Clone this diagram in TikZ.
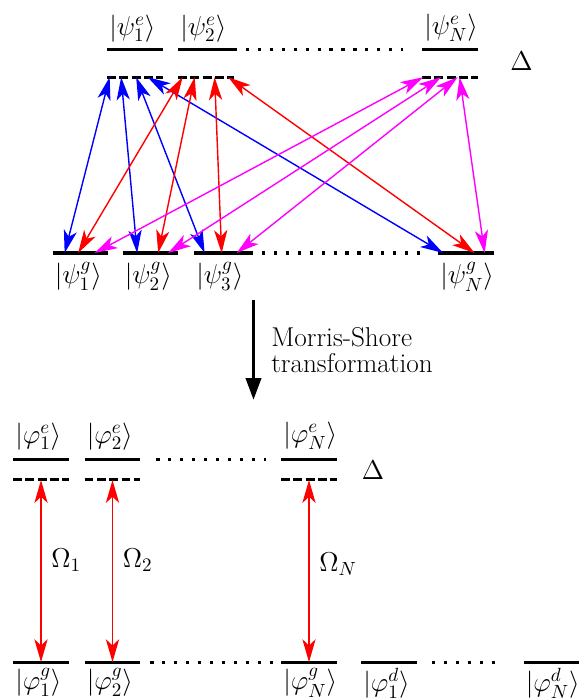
\RequirePackage{fix-cm}
\documentclass[tikz,border=0pt]{standalone}
\usepackage{amsmath,amssymb}
\usepackage{xcolor}
\usepackage{tikz}
\usetikzlibrary{arrows.meta,positioning}
\definecolor{pumpmag}{RGB}{255,0,255}

\begin{document}
\begin{tikzpicture}[
    font=\fontsize{15.5pt}{15.2pt}\selectfont,
    level/.style={rectangle, inner sep=0pt, minimum width=1.1cm, minimum height=0pt},
    solidlvl/.style={line width=1.8pt},
    virtlvl/.style={line width=1.8pt, dash pattern=on 5pt off 2pt},
    dots/.style={line width=1.8pt, dash pattern=on 1.8pt off 5pt},
    ket/.style={inner sep=1pt},
    rabi/.style={right, xshift=2pt, text=black},
    tr/.style={{Stealth[length=13pt,width=7.5pt,inset=3.5pt]}-{Stealth[length=13pt,width=7.5pt,inset=3.5pt]}, line width=0.8pt},
    msarrow/.style={-{Triangle[length=0.44cm,width=0.3cm]}, line width=2.2pt}
]
\useasboundingbox (0,0) rectangle (11.58,-14);

% bare states
\node[level] (e1) at (2.70,-0.99) {};
\node[level] (e2) at (4.12,-0.99) {};
\node[level] (eN) at (9.00,-0.99) {};
\node[level, below=0.54cm of e1] (v1) {};
\node[level, below=0.54cm of e2] (v2) {};
\node[level, below=0.54cm of eN] (vN) {};
\node[level] (g1) at (1.61,-5.06) {};
\node[level] (g2) at (3.01,-5.06) {};
\node[level] (g3) at (4.44,-5.06) {};
\node[level] (gN) at (9.32,-5.06) {};

\draw[solidlvl] (e1.west) -- (e1.east) (e2.west) -- (e2.east) (eN.west) -- (eN.east);
\draw[virtlvl] (v1.west) -- (v1.east) (v2.west) -- (v2.east) (vN.west) -- (vN.east);
\draw[solidlvl] (g1.west) -- (g1.east) (g2.west) -- (g2.east) (g3.west) -- (g3.east) (gN.west) -- (gN.east);
\draw[dots] (e2.east) -- ([xshift=-0.39cm]eN.west);
\draw[dots] (g3.east) -- ([xshift=-0.37cm]gN.west);

\node[ket, above=0.11cm of e1.west, anchor=south west] (ke1) {$|\psi^e_1\rangle$};
\node[ket, above=0.11cm of e2.west, anchor=south west] (ke2) {$|\psi^e_2\rangle$};
\node[ket, above=0.11cm of eN.west, anchor=south west] (keN) {$|\psi^e_N\rangle$};
\node[ket, below=0.14cm of g1.west, anchor=north west] (kg1) {$|\psi^g_1\rangle$};
\node[ket, below=0.14cm of g2.west, anchor=north west] (kg2) {$|\psi^g_2\rangle$};
\node[ket, below=0.14cm of g3.west, anchor=north west] (kg3) {$|\psi^g_3\rangle$};
\node[ket, below=0.14cm of gN.west, anchor=north west] (kgN) {$|\psi^g_N\rangle$};
\node (delta1) at (10.43,-1.22) {$\Delta$};

% couplings
\draw[tr, blue] ([xshift=0.05cm]v1.west) -- ([xshift=0.24cm]g1.west);
\draw[tr, blue] ([xshift=0.28cm]v1.west) -- ([xshift=0.29cm]g2.west);
\draw[tr, blue] ([xshift=0.58cm]v1.west) -- ([xshift=0.21cm]g3.west);
\draw[tr, blue] ([xshift=0.81cm]v1.west) -- ([xshift=0.10cm]gN.west);
\draw[tr, red] ([xshift=0.09cm]v2.west) -- ([xshift=0.51cm]g1.west);
\draw[tr, red] ([xshift=0.33cm]v2.west) -- ([xshift=0.71cm]g2.west);
\draw[tr, red] ([xshift=0.73cm]v2.west) -- ([xshift=0.55cm]g3.west);
\draw[tr, red] ([xshift=1.00cm]v2.west) -- ([xshift=0.73cm]gN.west);
\draw[tr, pumpmag] ([xshift=0.02cm]vN.west) -- ([xshift=0.84cm]g1.west);
\draw[tr, pumpmag] ([xshift=0.38cm]vN.west) -- ([xshift=0.91cm]g2.west);
\draw[tr, pumpmag] ([xshift=0.71cm]vN.west) -- ([xshift=0.85cm]g3.west);
\draw[tr, pumpmag] ([xshift=0.75cm]vN.west) -- ([xshift=0.93cm]gN.west);

% transformation
\coordinate (mstop) at (5.07,-6.0);
\coordinate (msbot) at (5.07,-8.0);
\draw[msarrow] (mstop) -- node[right=0.2cm, align=left] (mslabel) {Morris-Shore\\transformation} (msbot);

% MS basis
\node[level] (f1) at (0.82,-9.19) {};
\node[level] (f2) at (2.25,-9.19) {};
\node[level] (fN) at (6.18,-9.19) {};
\node[level, below=0.39cm of f1] (w1) {};
\node[level, below=0.39cm of f2] (w2) {};
\node[level, below=0.39cm of fN] (wN) {};
\node[level] (h1) at (0.82,-13.25) {};
\node[level] (h2) at (2.25,-13.25) {};
\node[level] (hN) at (6.18,-13.25) {};
\node[level] (d1) at (7.78,-13.25) {};
\node[level] (dN) at (11.03,-13.25) {};

\draw[solidlvl] (f1.west) -- (f1.east) (f2.west) -- (f2.east) (fN.west) -- (fN.east);
\draw[virtlvl] (w1.west) -- (w1.east) (w2.west) -- (w2.east) (wN.west) -- (wN.east);
\draw[solidlvl] (h1.west) -- (h1.east) (h2.west) -- (h2.east) (hN.west) -- (hN.east)
    (d1.west) -- (d1.east) (dN.west) -- (dN.east);
\draw[dots] ([xshift=0.32cm]f2.east) -- ([xshift=-0.31cm]fN.west);
\draw[dots] ([xshift=0.2cm]h2.east) -- ([xshift=-0.16cm]hN.west);
\draw[dots] ([xshift=0.3cm]d1.east) -- ([xshift=-0.44cm]dN.west);

\node[ket, above=0.15cm of f1.west, anchor=south west] (kf1) {$|\varphi^e_1\rangle$};
\node[ket, above=0.15cm of f2.west, anchor=south west] (kf2) {$|\varphi^e_2\rangle$};
\node[ket, above=0.15cm of fN.west, anchor=south west] (kfN) {$|\varphi^e_N\rangle$};
\node[ket, below=0.07cm of h1.west, anchor=north west] (kh1) {$|\varphi^g_1\rangle$};
\node[ket, below=0.07cm of h2.west, anchor=north west] (kh2) {$|\varphi^g_2\rangle$};
\node[ket, below=0.07cm of hN.west, anchor=north west] (khN) {$|\varphi^g_N\rangle$};
\node[ket, below=0.07cm of d1.west, anchor=north west] (kd1) {$|\varphi^d_1\rangle$};
\node[ket, below=0.07cm of dN.west, anchor=north west] (kdN) {$|\varphi^d_N\rangle$};
\node (delta2) at (7.46,-9.41) {$\Delta$};

\draw[tr, red, line width=1pt] (w1.south) -- node[rabi, pos=0.44] (om1) {$\Omega_1$} (h1.north);
\draw[tr, red, line width=1pt] (w2.south) -- node[rabi, pos=0.44] (om2) {$\Omega_2$} (h2.north);
\draw[tr, red, line width=1pt] (wN.south) -- node[rabi, pos=0.46] (omN) {$\Omega_N$} (hN.north);
\end{tikzpicture}
\end{document}
